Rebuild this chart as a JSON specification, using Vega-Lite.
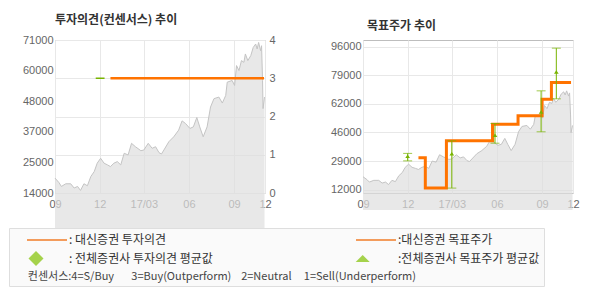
{
  "$schema": "https://vega.github.io/schema/vega-lite/v6.json",
  "background": "white",
  "padding": {"left": 8, "top": 13, "right": 0, "bottom": 0},
  "spacing": 53,
  "datasets": {
    "price": [
      {"date": "2016-09-01", "price": 19550}, {"date": "2016-09-09", "price": 17900}, {"date": "2016-09-14", "price": 16440},
      {"date": "2016-09-23", "price": 17440}, {"date": "2016-10-03", "price": 17440}, {"date": "2016-10-10", "price": 15850},
      {"date": "2016-10-17", "price": 16440}, {"date": "2016-10-23", "price": 14960}, {"date": "2016-10-30", "price": 17440},
      {"date": "2016-11-06", "price": 16700}, {"date": "2016-11-13", "price": 20140}, {"date": "2016-11-20", "price": 22000},
      {"date": "2016-11-26", "price": 25100}, {"date": "2016-12-03", "price": 26950}, {"date": "2016-12-10", "price": 25100},
      {"date": "2016-12-17", "price": 24470}, {"date": "2016-12-23", "price": 23840}, {"date": "2016-12-30", "price": 25100},
      {"date": "2017-01-06", "price": 25700}, {"date": "2017-01-13", "price": 24470}, {"date": "2017-01-20", "price": 28800},
      {"date": "2017-01-28", "price": 28170}, {"date": "2017-02-04", "price": 32500}, {"date": "2017-02-12", "price": 31240},
      {"date": "2017-02-23", "price": 29760}, {"date": "2017-03-01", "price": 30000}, {"date": "2017-03-10", "price": 32500},
      {"date": "2017-03-18", "price": 30650}, {"date": "2017-03-25", "price": 31240}, {"date": "2017-04-01", "price": 29020},
      {"date": "2017-04-06", "price": 28540}, {"date": "2017-04-11", "price": 30020}, {"date": "2017-04-21", "price": 33100},
      {"date": "2017-05-01", "price": 34940}, {"date": "2017-05-11", "price": 37420}, {"date": "2017-05-18", "price": 40870},
      {"date": "2017-05-25", "price": 39900}, {"date": "2017-06-03", "price": 38050}, {"date": "2017-06-10", "price": 38640},
      {"date": "2017-06-17", "price": 42120}, {"date": "2017-06-23", "price": 38640}, {"date": "2017-06-30", "price": 34940},
      {"date": "2017-07-08", "price": 38640}, {"date": "2017-07-15", "price": 46040}, {"date": "2017-07-22", "price": 49150},
      {"date": "2017-08-01", "price": 49740}, {"date": "2017-08-08", "price": 47520}, {"date": "2017-08-15", "price": 50370},
      {"date": "2017-08-18", "price": 55290}, {"date": "2017-08-28", "price": 55920}, {"date": "2017-09-02", "price": 54070},
      {"date": "2017-09-06", "price": 61470}, {"date": "2017-09-11", "price": 59620}, {"date": "2017-09-16", "price": 63320},
      {"date": "2017-09-21", "price": 62690}, {"date": "2017-09-24", "price": 65800}, {"date": "2017-09-29", "price": 63320},
      {"date": "2017-10-05", "price": 65170}, {"date": "2017-10-10", "price": 68240}, {"date": "2017-10-15", "price": 69500},
      {"date": "2017-10-18", "price": 67650}, {"date": "2017-10-21", "price": 70090}, {"date": "2017-10-25", "price": 67020},
      {"date": "2017-10-27", "price": 68870}, {"date": "2017-10-29", "price": 55920}, {"date": "2017-10-30", "price": 45450},
      {"date": "2017-11-02", "price": 49740}
    ],
    "opinion": [
      {"date": "2016-12-23", "rating": 3}, {"date": "2017-11-01", "rating": 3}
    ],
    "consensus": [
      {"date": "2016-11-23", "rating": 3}, {"date": "2016-12-11", "rating": 3}
    ],
    "target": [
      {"date": "2016-12-23", "target": 30800}, {"date": "2017-01-06", "target": 12900},
      {"date": "2017-02-18", "target": 40700}, {"date": "2017-05-23", "target": 50500},
      {"date": "2017-07-14", "target": 55400}, {"date": "2017-09-01", "target": 65200},
      {"date": "2017-09-20", "target": 75000}, {"date": "2017-10-30", "target": 75000}
    ],
    "constarget": [
      {"date": "2016-12-01", "low": 28900, "high": 33300, "mean": 31400},
      {"date": "2017-03-01", "low": 12900, "high": 40700, "mean": 32900},
      {"date": "2017-05-28", "low": 39300, "high": 50900, "mean": 43800},
      {"date": "2017-08-30", "low": 46000, "high": 70100, "mean": 57400},
      {"date": "2017-09-30", "low": 65400, "high": 95200, "mean": 81000}
    ],
    "legend": [
      {"series": "대신증권 투자의견"}, {"series": "대신증권 목표주가"},
      {"series": "전체증권사 투자의견 평균값"}, {"series": "전체증권사 목표주가 평균값"}
    ]
  },
  "hconcat": [
    {
      "width": 210,
      "height": 153,
      "title": {"text": "투자의견(컨센서스) 추이", "anchor": "start", "frame": "group", "font": "Noto Sans CJK KR", "fontSize": 12, "fontWeight": "bold", "color": "#333333", "offset": 7},
      "layer": [
        {
          "data": {"name": "price"},
          "mark": {"type": "area", "color": "#dedede", "line": {"color": "#c4c4c4", "strokeWidth": 1}},
          "encoding": {
            "x": {"field": "date", "type": "temporal",
              "scale": {"type": "utc", "domain": [{"year": 2016, "month": 9, "date": 1, "utc": true}, {"year": 2017, "month": 11, "date": 3, "utc": true}]},
              "axis": {"title": null, "tickCount": 20, "values": [{"year": 2016, "month": 9, "date": 1, "utc": true}, {"year": 2016, "month": 12, "date": 1, "utc": true}, {"year": 2017, "month": 3, "date": 1, "utc": true}, {"year": 2017, "month": 6, "date": 1, "utc": true}, {"year": 2017, "month": 9, "date": 1, "utc": true}, {"year": 2017, "month": 11, "date": 3, "utc": true}],
                "labelExpr": "utcmonth(datum.value) == 2 ? '17/03' : (utcdate(datum.value) == 3 ? '12' : utcFormat(datum.value, '%m'))",
                "grid": true, "labelFlush": false, "labelOverlap": false, "labelPadding": 5}},
            "y": {"field": "price", "type": "quantitative",
              "scale": {"domain": [14000, 71000]},
              "axis": {"title": null, "tickCount": 20, "values": [14000, 25400, 36800, 48200, 59600, 71000], "labelExpr": "format(round(datum.value/1000)*1000, 'd')", "grid": false, "labelOverlap": false, "labelPadding": 2}}
          }
        },
        {
          "layer": [
            {
              "data": {"name": "opinion"},
              "mark": {"type": "line", "color": "#ff7300", "strokeWidth": 2.5},
              "encoding": {
                "x": {"field": "date", "type": "temporal"},
                "y": {"field": "rating", "type": "quantitative", "scale": {"domain": [0, 4]},
                  "axis": {"title": null, "orient": "right", "tickCount": 20, "values": [0, 1, 2, 3, 4], "format": "d", "grid": true, "labelOverlap": false, "labelPadding": 4}}
              }
            },
            {
              "data": {"name": "consensus"},
              "mark": {"type": "line", "color": "#78b400", "strokeWidth": 1.5},
              "encoding": {
                "x": {"field": "date", "type": "temporal"},
                "y": {"field": "rating", "type": "quantitative"}
              }
            },
            {
              "data": {"name": "legend"},
              "mark": {"type": "point", "filled": true},
              "encoding": {
                "x": {"field": "date", "type": "temporal"},
                "y": {"field": "rating", "type": "quantitative"},
                "color": {"field": "series", "type": "nominal",
                  "scale": {"domain": ["대신증권 투자의견", "대신증권 목표주가", "전체증권사 투자의견 평균값", "전체증권사 목표주가 평균값"], "range": ["#f07318", "#f07318", "#80c000", "#80c000"]},
                  "legend": {
                    "orient": "none", "legendX": -46, "legendY": 188, "direction": "horizontal", "columns": 2,
                    "symbolSize": 1600, "symbolStrokeWidth": 0, "symbolOffset": 14, "labelOffset": 2, "clipHeight": 16,
                    "labelFont": "Noto Sans CJK KR", "labelFontSize": 12, "labelColor": "#333333", "labelLimit": 400,
                    "labelExpr": "(indexof(datum.label, '투자의견') >= 0 ? ': ' : ':') + datum.label",
                    "columnPadding": 129, "rowPadding": 2.5, "padding": 4,
                    "fillColor": "#fafafa", "strokeColor": "#dedede",
                    "title": "\u200b\u00a0\u00a0\u00a0\u00a0\u00a0\u00a0컨센서스:4=S/Buy\u00a0\u00a0\u00a0\u00a0\u00a0\u00a0\u00a03=Buy(Outperform)\u00a0\u00a0\u00a0\u00a02=Neutral\u00a0\u00a0\u00a0\u00a0\u00a01=Sell(Underperform)",
                    "titleOrient": "bottom", "titleAnchor": "start", "titleFont": "Noto Sans CJK KR", "titleFontSize": 11,
                    "titleFontWeight": "normal", "titleColor": "#444444", "titlePadding": 4, "titleLimit": 1000
                  }},
                "shape": {"field": "series", "type": "nominal",
                  "scale": {"domain": ["대신증권 투자의견", "대신증권 목표주가", "전체증권사 투자의견 평균값", "전체증권사 목표주가 평균값"],
                    "range": ["M-1,-0.05L1,-0.05L1,0.05L-1,0.05Z", "M-1,-0.05L1,-0.05L1,0.05L-1,0.05Z", "M-0.925,0L-0.55,-0.375L-0.175,0L-0.55,0.375Z", "M-1.015,0.175L-0.315,0.175L-0.665,-0.175Z"]},
                  "legend": {
                    "orient": "none", "legendX": -46, "legendY": 188, "direction": "horizontal", "columns": 2,
                    "symbolSize": 1600, "symbolStrokeWidth": 0, "symbolOffset": 14, "labelOffset": 2, "clipHeight": 16,
                    "labelFont": "Noto Sans CJK KR", "labelFontSize": 12, "labelColor": "#333333", "labelLimit": 400,
                    "labelExpr": "(indexof(datum.label, '투자의견') >= 0 ? ': ' : ':') + datum.label",
                    "columnPadding": 129, "rowPadding": 2.5, "padding": 4,
                    "fillColor": "#fafafa", "strokeColor": "#dedede",
                    "title": "\u200b\u00a0\u00a0\u00a0\u00a0\u00a0\u00a0컨센서스:4=S/Buy\u00a0\u00a0\u00a0\u00a0\u00a0\u00a0\u00a03=Buy(Outperform)\u00a0\u00a0\u00a0\u00a02=Neutral\u00a0\u00a0\u00a0\u00a0\u00a01=Sell(Underperform)",
                    "titleOrient": "bottom", "titleAnchor": "start", "titleFont": "Noto Sans CJK KR", "titleFontSize": 11,
                    "titleFontWeight": "normal", "titleColor": "#444444", "titlePadding": 4, "titleLimit": 1000
                  }}
              }
            }
          ]
        }
      ],
      "resolve": {"scale": {"y": "independent"}}
    },
    {
      "width": 210,
      "height": 153,
      "title": {"text": "목표주가 추이", "anchor": "start", "frame": "group", "font": "Noto Sans CJK KR", "fontSize": 12, "fontWeight": "bold", "color": "#333333", "offset": 7, "dx": 4},
      "layer": [
        {
          "data": {"name": "price"},
          "mark": {"type": "area", "color": "#dedede", "line": {"color": "#c4c4c4", "strokeWidth": 1}},
          "encoding": {
            "x": {"field": "date", "type": "temporal",
              "scale": {"type": "utc", "domain": [{"year": 2016, "month": 9, "date": 1, "utc": true}, {"year": 2017, "month": 11, "date": 3, "utc": true}]},
              "axis": {"title": null, "tickCount": 20, "values": [{"year": 2016, "month": 9, "date": 1, "utc": true}, {"year": 2016, "month": 12, "date": 1, "utc": true}, {"year": 2017, "month": 3, "date": 1, "utc": true}, {"year": 2017, "month": 6, "date": 1, "utc": true}, {"year": 2017, "month": 9, "date": 1, "utc": true}, {"year": 2017, "month": 11, "date": 3, "utc": true}],
                "labelExpr": "utcmonth(datum.value) == 2 ? '17/03' : (utcdate(datum.value) == 3 ? '12' : utcFormat(datum.value, '%m'))",
                "grid": true, "labelFlush": false, "labelOverlap": false, "labelPadding": 5}},
            "y": {"field": "price", "type": "quantitative",
              "scale": {"domain": [12000, 96000]},
              "axis": {"title": null, "tickCount": 20, "values": [12000, 28800, 45600, 62400, 79200, 96000], "labelExpr": "format(round(datum.value/1000)*1000, 'd')", "grid": true, "labelOverlap": false, "labelPadding": 2}}
          }
        },
        {
          "data": {"name": "target"},
          "mark": {"type": "line", "color": "#ff7300", "strokeWidth": 3, "interpolate": "step-after"},
          "encoding": {
            "x": {"field": "date", "type": "temporal"},
            "y": {"field": "target", "type": "quantitative"}
          }
        },
        {
          "data": {"name": "constarget"},
          "mark": {"type": "errorbar", "color": "#78b400", "ticks": {"color": "#78b400", "size": 9, "thickness": 1}, "rule": {"strokeWidth": 1}},
          "encoding": {
            "x": {"field": "date", "type": "temporal"},
            "y": {"field": "low", "type": "quantitative"},
            "y2": {"field": "high"}
          }
        },
        {
          "data": {"name": "constarget"},
          "mark": {"type": "point", "filled": true, "color": "#78b400", "opacity": 1, "shape": "M-1,0.6L1,0.6L0,-0.9Z", "size": 22},
          "encoding": {
            "x": {"field": "date", "type": "temporal"},
            "y": {"field": "mean", "type": "quantitative"}
          }
        }
      ]
    }
  ],
  "config": {
    "view": {"stroke": "#bdbdbd", "strokeWidth": 1},
    "axis": {"labelFont": "Liberation Sans", "labelFontSize": 11, "labelColor": "#666666", "gridColor": "#e8e8e8", "domain": false, "ticks": false}
  }
}
